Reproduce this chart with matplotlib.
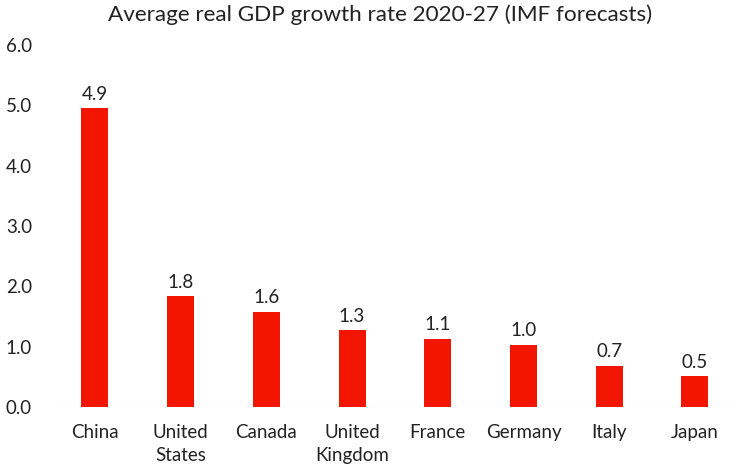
import matplotlib
matplotlib.use("Agg")
import matplotlib.pyplot as plt
import numpy as np

plt.rcParams['font.family'] = ['Lato', 'DejaVu Sans']

countries = ["China", "United\nStates", "Canada", "United\nKingdom", "France", "Germany", "Italy", "Japan"]
growth = [4.95, 1.84, 1.58, 1.27, 1.13, 1.03, 0.68, 0.51]
value_labels = ["4.9", "1.8", "1.6", "1.3", "1.1", "1.0", "0.7", "0.5"]
yticks = [0.0, 1.0, 2.0, 3.0, 4.0, 5.0, 6.0]

fig = plt.figure(figsize=(7.43, 4.75), dpi=100)
ax = fig.add_axes([0.070, 0.143, 0.923, 0.762])

x = np.arange(len(countries))
bars = ax.bar(x, growth, width=0.315, color='#F21500')
ax.bar_label(bars, labels=value_labels, padding=4, fontsize=13.5, color='#222222')

ax.set_xlim(-0.5, len(countries) - 0.5)
ax.set_ylim(0, 6)
ax.set_yticks(yticks)
ax.set_yticklabels([f"{v:.1f}" for v in yticks], fontsize=13.5, color='#222222')
ax.set_xticks(x)
ax.set_xticklabels(countries, fontsize=13.5, color='#222222', linespacing=1.45, va='top')
ax.tick_params(length=0, pad=12)
ax.tick_params(axis='y', pad=14.5)
for s in ax.spines.values():
    s.set_visible(False)
ax.axhline(0, color='#bbbbbb', lw=0.8, ls=(0, (1, 1.5)))

fig.text(0.512, 0.968, "Average real GDP growth rate 2020-27 (IMF forecasts)",
         ha='center', va='center', fontsize=16.2, color='#222222')

fig.savefig("out.png", dpi=100)
